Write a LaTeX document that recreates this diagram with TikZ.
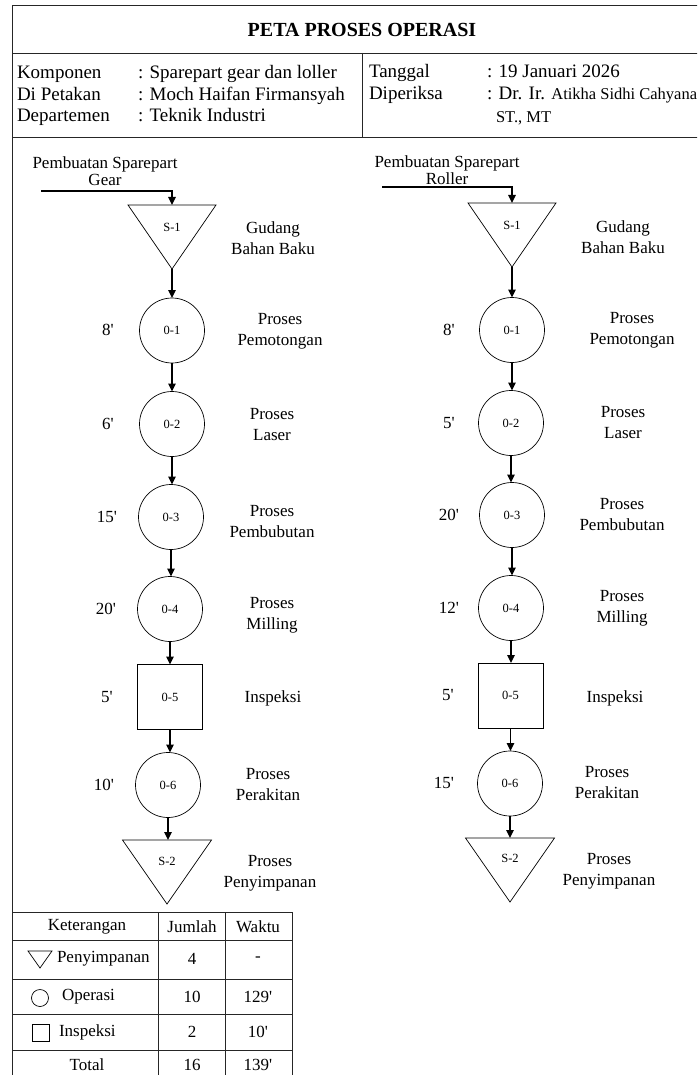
\documentclass[tikz,border=0pt]{standalone}
\usepackage{fontspec}
\setmainfont{Liberation Serif}
\usetikzlibrary{arrows.meta,calc}
\newcommand{\mn}{\textquotesingle}
\begin{document}
\begin{tikzpicture}[x=1pt,y=-1pt,
  every node/.style={inner sep=0pt, outer sep=0pt},
  frame/.style={line width=0.9pt, draw=black!85},
  arr/.style={line width=1.3pt, -{Triangle[length=8pt,width=7.5pt]}},
  opc/.style={circle, draw, line width=0.7pt, minimum size=65pt, font=\fontsize{12.5}{14}\selectfont},
  insp/.style={rectangle, draw, line width=0.7pt, minimum width=65pt, minimum height=65pt, font=\fontsize{12.5}{14}\selectfont},
  trib/.style={minimum width=88pt, minimum height=64pt},
  triline/.style={line width=0.7pt},
  lbl/.style={font=\fontsize{17}{21}\selectfont, align=center},
  tm/.style={font=\fontsize{17}{20}\selectfont},
  small/.style={font=\fontsize{12.5}{14}\selectfont},
  info/.style={font=\fontsize{19}{22}\selectfont, anchor=base west},
  infos/.style={font=\fontsize{16.5}{18}\selectfont, anchor=base west},
  cell/.style={font=\fontsize{17}{20}\selectfont},
  head/.style={font=\fontsize{17}{17}\selectfont, align=center}
]
\useasboundingbox (0,0) rectangle (697,1075);
\clip (0,0) rectangle (697,1075);
\fill[white] (0,0) rectangle (697,1075);

% frame
\draw[frame] (12,1076) -- (12,5) -- (698,5);
\draw[frame] (12,53) -- (698,53);
\draw[frame] (12,137) -- (698,137);
\draw[frame] (362,53) -- (362,137);

% title & info
\node[font=\bfseries\fontsize{20}{22}\selectfont] (title) at (362,30) {PETA PROSES OPERASI};
\node[info] (k1) at (17,79) {Komponen};
\node[info] (k2) at (17,100.5) {Di Petakan};
\node[info] (k3) at (17,122) {Departemen};
\node[info] (v1) at (138,79) {: Sparepart gear dan loller};
\node[info] (v2) at (138,100.5) {: Moch Haifan Firmansyah};
\node[info] (v3) at (138,122) {: Teknik Industri};
\node[info] (k4) at (369,78) {Tanggal};
\node[info] (k5) at (369,100) {Diperiksa};
\node[info] (v4) at (487,78) {: 19 Januari 2026};
\node[info] (v5) at (487,100) {: Dr. Ir. {\fontsize{16.5}{18}\selectfont Atikha Sidhi Cahyana}};
\node[infos] (v6) at (496,123) {ST., MT};

% ---------------- left column (Gear)
\node[head] (hL) at (105,171) {Pembuatan Sparepart\\Gear};
\coordinate (inL) at (41,191);
\node[trib] (s1L) at (172,237) {};
\draw[triline] (s1L.north west) -- (s1L.north east) -- (s1L.south) -- cycle;
\node[small] (s1Lt) at ([yshift=-22pt]s1L.north) {S-1};
\node[opc] (o1L) at (172,330.5) {0-1};
\node[opc] (o2L) at (172,424) {0-2};
\node[opc] (o3L) at (171,517) {0-3};
\node[opc] (o4L) at (170,609) {0-4};
\node[insp] (o5L) at (170,697) {0-5};
\node[opc] (o6L) at (168,785) {0-6};
\node[trib, minimum width=89pt] (s2L) at (167,872) {};
\draw[triline] (s2L.north west) -- (s2L.north east) -- (s2L.south) -- cycle;
\node[small] (s2Lt) at ([yshift=-21pt]s2L.north) {S-2};

\draw[arr] (inL) -| (s1L.north);
\draw[arr] (s1L.south) -- (s1L.south |- o1L.north);
\draw[arr] (o1L.south) -- (o1L.south |- o2L.north);
\draw[arr] (o2L.south) -- (o2L.south |- o3L.north);
\draw[arr] (o3L.south) -- (o3L.south |- o4L.north);
\draw[arr] (o4L.south) -- (o4L.south |- o5L.north);
\draw[arr] (o5L.south) -- (o5L.south |- o6L.north);
\draw[arr] (o6L.south) -- (o6L.south |- s2L.north);

\node[tm] (t1L) at (108,330) {8\mn};
\node[tm] (t2L) at (108,424) {6\mn};
\node[tm] (t3L) at (107,517) {15\mn};
\node[tm] (t4L) at (106,609) {20\mn};
\node[tm] (t5L) at (107,697) {5\mn};
\node[tm] (t6L) at (104,785) {10\mn};

\node[lbl] (d1L) at (273,238) {Gudang\\Bahan Baku};
\node[lbl] (d2L) at (280,331) {Proses\\Pemotongan};
\node[lbl] (d3L) at (272,425) {Proses\\Laser};
\node[lbl] (d4L) at (272,522) {Proses\\Pembubutan};
\node[lbl] (d5L) at (272,615) {Proses\\Milling};
\node[lbl] (d6L) at (273,698) {Inspeksi};
\node[lbl] (d7L) at (268,785) {Proses\\Perakitan};
\node[lbl] (d8L) at (270,873) {Proses\\Penyimpanan};

% ---------------- right column (Roller)
\node[head] (hR) at (447,170) {Pembuatan Sparepart\\Roller};
\coordinate (inR) at (382,187);
\node[trib] (s1R) at (512,235) {};
\draw[triline] (s1R.north west) -- (s1R.north east) -- (s1R.south) -- cycle;
\node[small] (s1Rt) at ([yshift=-22pt]s1R.north) {S-1};
\node[opc] (o1R) at (512,330) {0-1};
\node[opc] (o2R) at (511,423) {0-2};
\node[opc] (o3R) at (512,515) {0-3};
\node[opc] (o4R) at (511,608) {0-4};
\node[insp] (o5R) at (510.5,695.5) {0-5};
\node[opc] (o6R) at (510,783.5) {0-6};
\node[trib, minimum width=89pt] (s2R) at (510,870) {};
\draw[triline] (s2R.north west) -- (s2R.north east) -- (s2R.south) -- cycle;
\node[small] (s2Rt) at ([yshift=-20pt]s2R.north) {S-2};

\draw[arr] (inR) -| (s1R.north);
\draw[arr] (s1R.south) -- (s1R.south |- o1R.north);
\draw[arr] (o1R.south) -- (o1R.south |- o2R.north);
\draw[arr] (o2R.south) -- (o2R.south |- o3R.north);
\draw[arr] (o3R.south) -- (o3R.south |- o4R.north);
\draw[arr] (o4R.south) -- (o4R.south |- o5R.north);
\draw[arr] (o5R.south) -- (o5R.south |- o6R.north);
\draw[arr] (o6R.south) -- (o6R.south |- s2R.north);

\node[tm] (t1R) at (449,330) {8\mn};
\node[tm] (t2R) at (449,423) {5\mn};
\node[tm] (t3R) at (449,515) {20\mn};
\node[tm] (t4R) at (449,608) {12\mn};
\node[tm] (t5R) at (448,695) {5\mn};
\node[tm] (t6R) at (444,783) {15\mn};

\node[lbl] (d1R) at (623,237) {Gudang\\Bahan Baku};
\node[lbl] (d2R) at (632,330) {Proses\\Pemotongan};
\node[lbl] (d3R) at (623,423) {Proses\\Laser};
\node[lbl] (d4R) at (622,515) {Proses\\Pembubutan};
\node[lbl] (d5R) at (622,608) {Proses\\Milling};
\node[lbl] (d6R) at (615,698) {Inspeksi};
\node[lbl] (d7R) at (607,783) {Proses\\Perakitan};
\node[lbl] (d8R) at (609,871) {Proses\\Penyimpanan};

% ---------------- summary table
\draw[frame] (12,912) -- (292,912);
\foreach \yy in {940,979,1014,1050} \draw[frame] (12,\yy) -- (292,\yy);
\foreach \xx in {158,225,292} \draw[frame] (\xx,912) -- (\xx,1076);

\node[cell] (hk) at (87,927) {Keterangan};
\node[cell] (hj) at (192,927) {Jumlah};
\node[cell] (hw) at (258,927) {Waktu};

\node[minimum width=24pt, minimum height=17pt] (icT) at (40,959.5) {};
\draw[line width=0.7pt] (icT.north west) -- (icT.north east) -- (icT.south) -- cycle;
\node[cell, anchor=west] (r1k) at (57,959) {Penyimpanan};
\node[cell] (r1j) at (192,959) {4};
\node[cell] (r1w) at (258,959) {-};

\node[circle, draw, line width=0.7pt, minimum size=17pt] (icC) at (40,998) {};
\node[cell, anchor=west] (r2k) at (62,997) {Operasi};
\node[cell] (r2j) at (192,997) {10};
\node[cell] (r2w) at (258,997) {129\mn};

\node[rectangle, draw, line width=0.7pt, minimum size=17pt] (icS) at (40.5,1032.5) {};
\node[cell, anchor=west] (r3k) at (59,1032) {Inspeksi};
\node[cell] (r3j) at (192,1032) {2};
\node[cell] (r3w) at (258,1032) {10\mn};

\node[cell] (r4k) at (87,1065) {Total};
\node[cell] (r4j) at (192,1065) {16};
\node[cell] (r4w) at (258,1065) {139\mn};
\end{tikzpicture}
\end{document}
